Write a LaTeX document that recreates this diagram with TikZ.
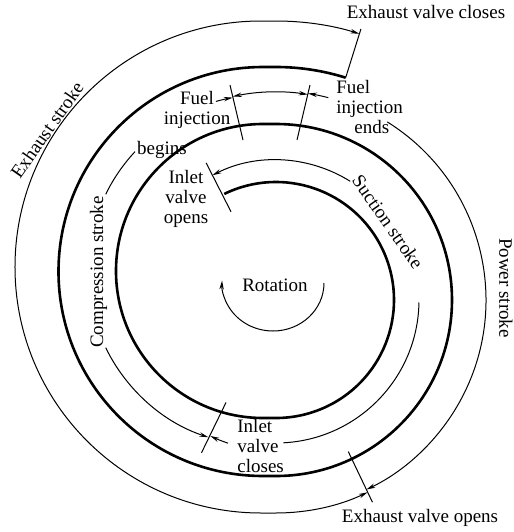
\documentclass[tikz,border=0pt]{standalone}
\usepackage{fontspec}
\setmainfont{Liberation Serif}
\usetikzlibrary{arrows.meta}

\begin{document}
\begin{tikzpicture}[
            x=0.5pt, y=0.5pt,
            font=\fontsize{9.5}{10}\selectfont,
            >={Stealth[length=4.5pt,width=2.2pt]},
            spiral/.style={line width=1.3pt},
            thinarc/.style={line width=0.5pt},
            markline/.style={line width=0.5pt},
            lbl/.style={inner sep=0pt, align=center}
        ]
            \useasboundingbox (-276,-232) rectangle (238,300);

            \draw[spiral] (116:118) arc[start angle=116, end angle=-90, radius=118]
                -- ++(-13,0) arc[start angle=270, end angle=90, radius=147]
                -- ++(13,0) arc[start angle=90, end angle=-90, radius=176]
                -- ++(-13,0) arc[start angle=270, end angle=90, radius=204.5]
                -- ++(13,0) arc[start angle=90, end angle=72.6, radius=233];

            \draw[markline] (117:99) -- (117:154);
            \draw[markline] (-116:114) -- (-116:170);
            \draw[markline] (-33,160) -- (-46,215);
            \draw[markline] (21,160) -- (34,215);
            \draw[markline] (72.6:233) -- (72.6:284);
            \draw[markline] (-64.5:168) -- (-64.5:224);

            \draw[thinarc,->] (58:140) arc[start angle=58, end angle=117, radius=140];
            \draw[thinarc] (-1:143) arc[start angle=-1, end angle=-87, radius=143];
            \draw[thinarc,->] (-108.5:151) arc[start angle=-108.5, end angle=-115.8, radius=151];

            \begin{scope}[shift={(-13,29)}]
                \draw[thinarc,->] (206:175) arc[start angle=206, end angle=251.8, radius=175];
                \draw[thinarc] (154:175) arc[start angle=154, end angle=137, radius=175];
                \draw[thinarc,->] (105.5:176) arc[start angle=105.5, end angle=99.9, radius=176];
            \end{scope}

            \draw[thinarc,<->] (102:208) arc[start angle=102, end angle=81.2, radius=208];
            \draw[thinarc,->] (75.5:209) arc[start angle=75.5, end angle=81.2, radius=209];
            \draw[thinarc,->] (58:210) arc[start angle=58, end angle=-64.5, radius=210];
            \draw[thinarc,<->] (-64.5:213) arc[start angle=-64.5, end angle=-90, radius=213]
                -- ++(-15,0) arc[start angle=270, end angle=90, radius=246]
                -- ++(15,0) arc[start angle=90, end angle=72.6, radius=279];

            \draw[thinarc,->] (48,17) arc[start angle=0, end angle=-183, x radius=51, y radius=48];

            \node[lbl] (exvc) at (150,288) {Exhaust valve closes};
            \node[lbl, rotate=55] (exstroke) at (-229,170) {Exhaust stroke};
            \node[lbl] (fuelb) at (-79,190) {Fuel\\injection};
            \node[lbl] (begins) at (-114,150) {begins};
            \node[lbl, align=left, anchor=west] (fuele) at (60,193) {Fuel\\injection\\\hspace*{0.95em}ends};
            \node[lbl] (ivo) at (-90,101) {Inlet\\valve\\opens};
            \node[lbl, rotate=-55] (suction) at (112,78) {Suction stroke};
            \node[lbl, rotate=90] (compression) at (-177.5,28) {Compression stroke};
            \node[lbl, rotate=-90] (power) at (230,12) {Power stroke};
            \node[lbl] (rot) at (-1,15) {Rotation};
            \node[lbl, align=left, anchor=west] (ivc) at (-39,-146) {Inlet\\valve\\closes};
            \node[lbl] (exvo) at (144,-218) {Exhaust valve opens};
        \end{tikzpicture}
\end{document}
